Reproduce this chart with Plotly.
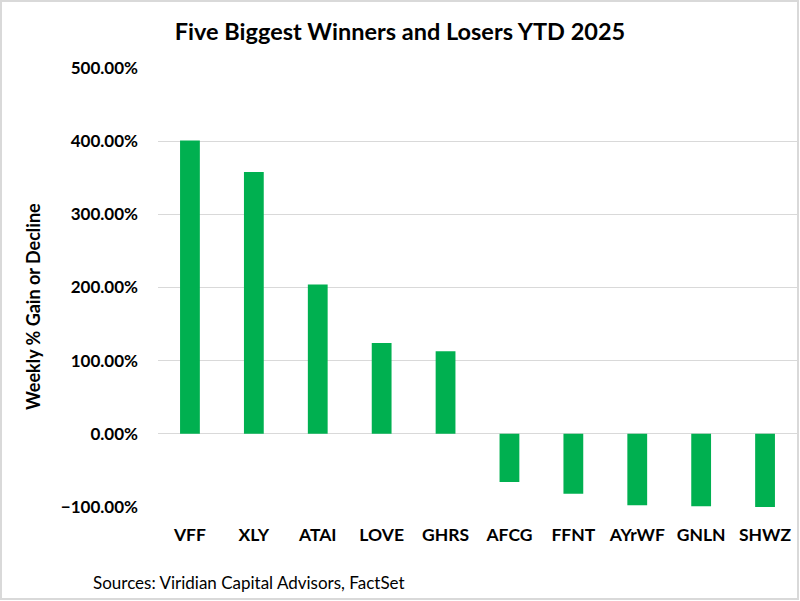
import plotly.graph_objects as go

tickers = ["VFF", "XLY", "ATAI", "LOVE", "GHRS", "AFCG", "FFNT", "AYrWF", "GNLN", "SHWZ"]
ytd_change = [4.01, 3.58, 2.04, 1.24, 1.13, -0.66, -0.82, -0.977, -0.99, -0.999]
y_ticks = [-1, 0, 1, 2, 3, 4, 5]

W, H = 800, 601
L, R, T, B = 158, 3, 68, 94
pw, ph = W - L - R, H - T - B

def px_x(x):
    return (x - L) / pw

def px_y(y):
    return (H - B - y) / ph

FONT = "Lato"

fig = go.Figure(go.Bar(
    x=tickers, y=ytd_change,
    marker=dict(color="#00B050", line=dict(width=0)),
))

fig.update_layout(
    width=W, height=H,
    margin=dict(l=L, r=R, t=T, b=B),
    paper_bgcolor="white", plot_bgcolor="white",
    bargap=0.69,
    showlegend=False,
    font=dict(family=FONT, color="#000000"),
    title=dict(text="<b>Five Biggest Winners and Losers YTD 2025</b>",
               x=0.5, xanchor="center", y=1 - 32 / H, yanchor="middle",
               font=dict(size=23.5, family=FONT, color="#000000")),
)
fig.update_yaxes(
    range=[-1, 5], tickvals=y_ticks, tickformat=".2%",
    showgrid=True, gridcolor="#d9d9d9", gridwidth=1.3,
    zeroline=False, showline=False,
    ticks="", ticklabelstandoff=19,
    tickfont=dict(size=17, family=FONT, color="#000000", weight="bold"),
)
fig.update_xaxes(
    showgrid=False, showline=False, zeroline=False, ticks="",
    ticklabelstandoff=15,
    tickfont=dict(size=17.5, family=FONT, color="#000000", weight="bold"),
)

fig.add_annotation(
    text="<b>Weekly % Gain or Decline</b>", textangle=-90,
    xref="paper", yref="paper", x=px_x(33), y=px_y(307),
    xanchor="center", yanchor="middle", showarrow=False,
    font=dict(size=18, family=FONT, color="#000000"),
)
fig.add_annotation(
    text="Sources: Viridian Capital Advisors, FactSet",
    xref="paper", yref="paper", x=px_x(91), y=px_y(582),
    xanchor="left", yanchor="middle", showarrow=False,
    font=dict(size=17, family=FONT, color="#000000"),
)
fig.add_shape(
    type="rect", xref="paper", yref="paper",
    x0=px_x(1), x1=px_x(798), y0=px_y(599), y1=px_y(1),
    line=dict(color="#d9d9d9", width=2), fillcolor="rgba(0,0,0,0)", layer="below",
)

fig.write_html(
    "out.html",
    config={"displayModeBar": False},
    post_script="document.body.style.margin='0px';document.body.style.overflow='hidden';",
)
